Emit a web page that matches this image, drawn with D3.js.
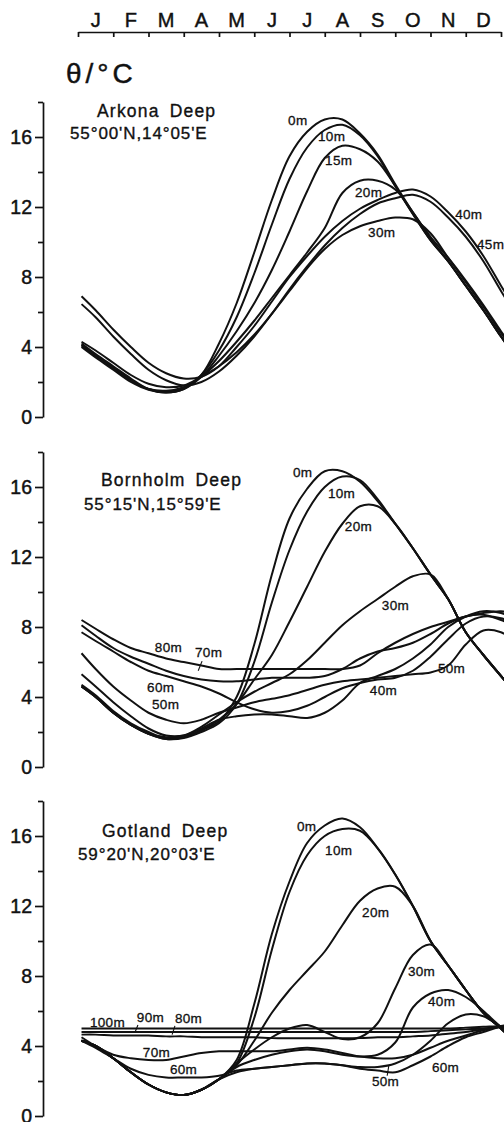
<!DOCTYPE html>
<html>
<head>
<meta charset="utf-8">
<script src="https://cdn.jsdelivr.net/npm/d3@7"></script>
<style>
  html, body { margin: 0; padding: 0; background: #fff; }
  svg { display: block; }
  text { font-family: "Liberation Sans Narrow", "Liberation Sans", sans-serif; fill: #111; stroke: #111; stroke-width: 0.45px; }
  .title, .pos { font-family: "Liberation Sans", sans-serif; stroke-width: 0.35px; }
  .depth { font-family: "Liberation Sans", sans-serif; font-size: 13.5px; letter-spacing: 0.3px; stroke-width: 0.3px; }
</style>
</head>
<body>
<svg id="chart" width="504" height="1122"></svg>
<script>
// ---- sampling months (0 = 1 Jan, 12 = 31 Dec) ----
const months = [0.1, 0.5, 1, 1.5, 2, 2.5, 3, 3.5, 4, 4.5, 5, 5.5, 6, 6.5, 7, 7.5, 8, 8.5, 9, 9.5, 10, 10.5, 11, 11.5, 12, 12.25];
const monthLabels = ["J", "F", "M", "A", "M", "J", "J", "A", "S", "O", "N", "D"];
const majorTicks = [0, 4, 8, 12, 16];
const minorTicks = [2, 6, 10, 14, 18];

// ---- Arkona Deep, potential temperature (°C) ----
const arkona0m  = [4.2, 3.6, 2.9, 2.2, 1.6, 1.4, 1.6, 2.4, 4.2, 6.5, 9.4, 12.4, 14.9, 16.3, 17.0, 17.0, 16.2, 15.0, 13.3, 11.7, 10.3, 9.1, 7.8, 6.4, 4.9, 4.2];
const arkona10m = [4.1, 3.5, 2.8, 2.1, 1.6, 1.45, 1.65, 2.4, 3.8, 5.7, 8.2, 11.0, 13.6, 15.4, 16.4, 16.7, 16.1, 14.9, 13.2, 11.6, 10.1, 8.9, 7.5, 6.1, 4.6, 3.9];
const arkona15m = [4.0, 3.4, 2.7, 2.0, 1.55, 1.4, 1.6, 2.3, 3.5, 4.9, 6.5, 8.4, 10.6, 12.9, 14.8, 15.5, 15.3, 14.6, 13.2, 11.6, 10.1, 8.9, 7.5, 6.1, 4.6, 3.9];
const arkona20m = [4.1, 3.5, 2.8, 2.1, 1.6, 1.5, 1.7, 2.3, 3.2, 4.3, 5.5, 6.8, 8.1, 9.4, 10.8, 12.8, 13.5, 13.5, 13.0, 11.7, 10.2, 8.9, 7.5, 6.1, 4.6, 3.9];
const arkona30m = [4.3, 3.8, 3.1, 2.4, 1.9, 1.7, 1.8, 2.3, 2.9, 3.7, 4.7, 5.9, 7.2, 8.5, 9.6, 10.4, 10.9, 11.2, 11.4, 11.3, 10.5, 9.1, 7.7, 6.3, 4.8, 4.1];
const arkona40m = [6.9, 6.1, 5.0, 4.0, 3.1, 2.5, 2.2, 2.3, 2.9, 4.0, 5.2, 6.6, 8.0, 9.2, 10.3, 11.2, 11.9, 12.4, 12.8, 13.0, 12.6, 11.7, 10.6, 9.2, 7.5, 6.7];
const arkona45m = [6.45, 5.7, 4.6, 3.6, 2.7, 2.1, 1.8, 2.0, 2.6, 3.5, 4.6, 5.9, 7.3, 8.6, 9.8, 10.8, 11.6, 12.2, 12.5, 12.7, 12.3, 11.4, 10.3, 8.9, 7.2, 6.4];

// ---- Bornholm Deep ----
const bornholm0m  = [4.7, 4.1, 3.2, 2.5, 2.0, 1.65, 1.7, 2.1, 2.6, 4.0, 7.0, 11.0, 14.2, 15.9, 16.9, 16.9, 16.3, 15.2, 13.9, 12.5, 11.0, 9.6, 7.7, 6.4, 5.2, 4.6];
const bornholm10m = [4.6, 4.0, 3.1, 2.4, 1.9, 1.6, 1.65, 2.0, 2.5, 3.6, 6.0, 9.4, 12.4, 14.6, 16.0, 16.6, 16.4, 15.3, 13.9, 12.5, 11.0, 9.6, 7.7, 6.4, 5.2, 4.6];
const bornholm20m = [4.6, 4.0, 3.1, 2.4, 1.9, 1.6, 1.7, 2.1, 2.7, 3.6, 5.0, 6.4, 8.3, 10.3, 12.3, 13.9, 14.9, 14.9, 13.9, 12.5, 11.0, 9.6, 7.7, 6.4, 5.2, 4.6];
const bornholm30m = [4.6, 4.0, 3.1, 2.4, 1.9, 1.7, 1.8, 2.3, 3.0, 3.7, 4.3, 4.8, 5.3, 6.1, 7.1, 8.1, 8.9, 9.6, 10.3, 10.9, 11.0, 9.6, 7.7, 6.4, 5.2, 4.6];
const bornholm40m = [5.3, 4.6, 3.7, 2.9, 2.2, 1.8, 1.8, 2.2, 2.7, 2.9, 3.0, 3.0, 2.9, 2.8, 3.1, 3.8, 4.8, 5.2, 5.6, 6.2, 7.0, 8.0, 8.6, 8.9, 8.8, 8.6];
const bornholm50m = [6.5, 5.6, 4.6, 3.8, 3.1, 2.7, 2.5, 2.7, 3.1, 3.4, 3.7, 3.9, 4.1, 4.4, 4.7, 4.9, 5.0, 5.1, 5.2, 5.3, 5.4, 5.8, 7.0, 7.8, 7.7, 7.4];
const bornholm60m = [7.7, 7.2, 6.6, 6.0, 5.5, 5.2, 4.9, 4.6, 4.2, 3.7, 3.3, 3.1, 3.2, 3.5, 4.0, 4.5, 4.8, 5.0, 5.1, 5.5, 6.3, 7.3, 8.2, 8.6, 8.5, 8.3];
const bornholm70m = [8.1, 7.5, 6.8, 6.3, 5.9, 5.5, 5.2, 5.0, 4.9, 4.9, 5.0, 5.1, 5.1, 5.1, 5.2, 5.6, 6.2, 6.6, 6.8, 7.1, 7.6, 8.2, 8.6, 8.7, 8.4, 8.2];
const bornholm80m = [8.4, 7.9, 7.3, 6.8, 6.5, 6.2, 6.0, 5.8, 5.6, 5.6, 5.6, 5.6, 5.6, 5.6, 5.6, 5.6, 5.8, 6.5, 7.1, 7.6, 8.0, 8.3, 8.6, 8.8, 8.9, 8.8];

// ---- Gotland Deep ----
const gotland0m   = [4.3, 4.0, 3.3, 2.5, 1.8, 1.35, 1.2, 1.5, 2.1, 3.2, 6.4, 10.4, 13.4, 15.6, 16.6, 17.0, 16.5, 15.3, 13.8, 12.0, 10.0, 8.6, 7.2, 5.9, 5.0, 4.5];
const gotland10m  = [4.3, 4.0, 3.3, 2.5, 1.8, 1.35, 1.2, 1.5, 2.1, 3.0, 5.6, 9.5, 12.8, 14.9, 16.0, 16.4, 16.3, 15.3, 13.8, 12.0, 10.0, 8.6, 7.2, 5.9, 5.0, 4.5];
const gotland20m  = [4.3, 4.0, 3.3, 2.5, 1.8, 1.35, 1.2, 1.5, 2.1, 2.9, 4.3, 5.9, 7.2, 8.3, 9.4, 10.9, 12.3, 13.0, 13.1, 12.0, 10.0, 8.6, 7.2, 5.9, 5.0, 4.5];
const gotland30m  = [4.3, 4.0, 3.3, 2.5, 1.8, 1.35, 1.2, 1.5, 2.1, 3.0, 3.8, 4.5, 5.0, 5.2, 4.8, 4.4, 4.5, 5.3, 7.3, 9.2, 9.8, 8.6, 7.2, 5.9, 5.0, 4.5];
const gotland40m  = [4.3, 4.0, 3.3, 2.5, 1.8, 1.35, 1.2, 1.5, 2.1, 2.8, 3.2, 3.5, 3.7, 3.8, 3.7, 3.5, 3.4, 3.5, 4.2, 6.2, 7.0, 7.2, 6.8, 6.0, 5.1, 4.8];
const gotland50m  = [4.3, 4.0, 3.3, 2.5, 1.8, 1.35, 1.2, 1.5, 2.1, 2.5, 2.7, 2.8, 2.9, 3.0, 3.0, 2.9, 2.8, 2.8, 3.0, 3.5, 4.3, 5.3, 5.8, 5.7, 5.1, 4.9];
const gotland60m  = [4.3, 3.9, 3.3, 2.7, 2.35, 2.2, 2.2, 2.2, 2.3, 2.6, 2.7, 2.8, 2.9, 3.0, 3.0, 2.9, 2.7, 2.6, 2.5, 2.9, 3.4, 4.0, 4.5, 4.8, 5.1, 5.1];
const gotland70m  = [4.5, 4.0, 3.5, 3.3, 3.2, 3.2, 3.4, 3.6, 3.7, 3.7, 3.7, 3.7, 3.8, 3.9, 3.8, 3.6, 3.4, 3.3, 3.3, 3.5, 3.9, 4.3, 4.6, 4.9, 5.1, 5.1];
const gotland80m  = [4.65, 4.65, 4.6, 4.6, 4.6, 4.55, 4.55, 4.5, 4.5, 4.5, 4.5, 4.45, 4.45, 4.45, 4.45, 4.45, 4.45, 4.5, 4.5, 4.55, 4.6, 4.7, 4.8, 4.95, 5.1, 5.15];
const gotland90m  = [4.8, 4.8, 4.8, 4.8, 4.8, 4.8, 4.8, 4.8, 4.8, 4.8, 4.8, 4.8, 4.8, 4.8, 4.8, 4.8, 4.8, 4.8, 4.8, 4.8, 4.85, 4.9, 4.95, 5.0, 5.1, 5.15];
const gotland100m = [5.0, 5.0, 5.0, 5.0, 5.0, 5.0, 5.0, 5.0, 5.0, 5.0, 5.0, 5.0, 5.0, 5.0, 5.0, 5.0, 5.0, 5.0, 5.0, 5.0, 5.0, 5.0, 5.05, 5.1, 5.15, 5.2];

// ---- depth labels: [text, month, °C] ----
const arkonaLabels = [["0m", 5.96, 16.7], ["10m", 6.81, 15.8], ["15m", 7.01, 14.4], ["20m", 7.86, 12.6],
                      ["30m", 8.23, 10.3], ["40m", 10.70, 11.3], ["45m", 11.32, 9.6]];
const bornholmLabels = [["0m", 6.10, 16.6], ["10m", 7.09, 15.4], ["20m", 7.57, 13.5], ["30m", 8.62, 9.0],
                        ["80m", 2.18, 6.6], ["70m", 3.32, 6.3], ["60m", 1.96, 4.3], ["50m", 2.10, 3.3],
                        ["40m", 8.28, 4.1], ["50m", 10.21, 5.4]];
const gotlandLabels = [["0m", 6.21, 16.3], ["10m", 7.01, 14.9], ["20m", 8.06, 11.35], ["30m", 9.36, 8.0],
                       ["40m", 9.93, 6.3], ["50m", 8.34, 1.7], ["60m", 10.04, 2.5], ["60m", 2.61, 2.4],
                       ["70m", 1.84, 3.4], ["80m", 2.75, 5.3], ["90m", 1.67, 5.4], ["100m", 0.34, 5.1]];
// short leader strokes from a label to its curve: [[month, °C], [month, °C]]
const bornholmLeaders = [[[3.52, 6.05], [3.41, 5.5]]];
const gotlandLeaders = [[[1.70, 5.2], [1.62, 4.8]], [[2.75, 5.15], [2.67, 4.65]], [[8.77, 2.3], [8.82, 2.9]]];

// ---- assemble stations ----
const stations = [
  { name: "Arkona", lat: "55°00'N", lon: "14°05'E",
    series: [arkona0m, arkona10m, arkona15m, arkona20m, arkona30m, arkona40m, arkona45m],
    labels: arkonaLabels, leaders: [] },
  { name: "Bornholm", lat: "55°15'N", lon: "15°59'E",
    series: [bornholm0m, bornholm10m, bornholm20m, bornholm30m, bornholm40m, bornholm50m, bornholm60m, bornholm70m, bornholm80m],
    labels: bornholmLabels, leaders: bornholmLeaders },
  { name: "Gotland", lat: "59°20'N", lon: "20°03'E",
    series: [gotland0m, gotland10m, gotland20m, gotland30m, gotland40m, gotland50m, gotland60m, gotland70m, gotland80m, gotland90m, gotland100m],
    labels: gotlandLabels, leaders: gotlandLeaders }
];

// ---- layout ----
const svg = d3.select("#chart");
const x = d3.scaleLinear().domain([0, 12]).range([78, 501]);
const axisX = 43;
const panelBase = [417, 767, 1116];
const panelHeight = 315;               // 0..18 °C
const titleOffset = [[97, -300], [101, -281], [102, -279]];
const posOffset = [[70, -278], [84, -257], [78, -256]];

// month axis on top
const mAxis = svg.append("g").attr("transform", "translate(0,32)")
  .call(d3.axisTop(x).tickValues(d3.range(0, 13)).tickSizeInner(-5).tickSizeOuter(0).tickFormat(""));
mAxis.selectAll("path,line").attr("stroke", "#111").attr("stroke-width", 1.7);
svg.append("g").selectAll("text").data(monthLabels).join("text")
  .attr("x", (d, i) => x(i + 0.5)).attr("y", 27)
  .attr("text-anchor", "middle").attr("font-size", 20).text(d => d);

// unit label
svg.append("text").attr("x", 66).attr("y", 83).attr("font-size", 28)
  .attr("letter-spacing", 4).attr("stroke-width", 0.5).text("θ/°C");

const line = d3.line().curve(d3.curveCatmullRom.alpha(0.5));

stations.forEach((st, k) => {
  const base = panelBase[k];
  const y = d3.scaleLinear().domain([0, 18]).range([base, base - panelHeight]);
  const g = svg.append("g");

  // temperature axis
  const ax = g.append("g").attr("transform", `translate(${axisX},0)`)
    .call(d3.axisLeft(y).tickValues(majorTicks).tickSize(8).tickSizeOuter(0).tickPadding(3));
  ax.selectAll("path,line").attr("stroke", "#111").attr("stroke-width", 1.7);
  ax.selectAll("text").attr("font-size", 19.5).attr("fill", "#111")
    .attr("font-family", "'Liberation Sans Narrow','Liberation Sans',sans-serif");
  const mn = g.append("g").attr("transform", `translate(${axisX},0)`)
    .call(d3.axisLeft(y).tickValues(minorTicks).tickSize(5).tickFormat(""));
  mn.select(".domain").remove();
  mn.selectAll("line").attr("stroke", "#111").attr("stroke-width", 1.7);

  // station name and position
  const t = g.append("text").attr("class", "title")
    .attr("x", titleOffset[k][0]).attr("y", base + titleOffset[k][1])
    .attr("font-size", 17.5).attr("letter-spacing", 1.2);
  t.append("tspan").text(st.name);
  t.append("tspan").attr("dx", 10).text("Deep");
  g.append("text").attr("class", "pos")
    .attr("x", posOffset[k][0]).attr("y", base + posOffset[k][1])
    .attr("font-size", 17).attr("letter-spacing", 0.9)
    .text(`${st.lat},${st.lon}`);

  // isolines for each depth
  g.append("g").selectAll("path").data(st.series).join("path")
    .attr("d", vals => line(vals.map((v, i) => [x(months[i]), y(v)])))
    .attr("fill", "none").attr("stroke", "#111").attr("stroke-width", 2)
    .attr("stroke-linejoin", "round");

  // depth labels
  g.append("g").selectAll("text").data(st.labels).join("text")
    .attr("class", "depth")
    .attr("x", d => x(d[1])).attr("y", d => y(d[2])).text(d => d[0]);

  g.append("g").selectAll("line").data(st.leaders).join("line")
    .attr("x1", d => x(d[0][0])).attr("y1", d => y(d[0][1]))
    .attr("x2", d => x(d[1][0])).attr("y2", d => y(d[1][1]))
    .attr("stroke", "#111").attr("stroke-width", 1.1);
});
</script>
</body>
</html>
